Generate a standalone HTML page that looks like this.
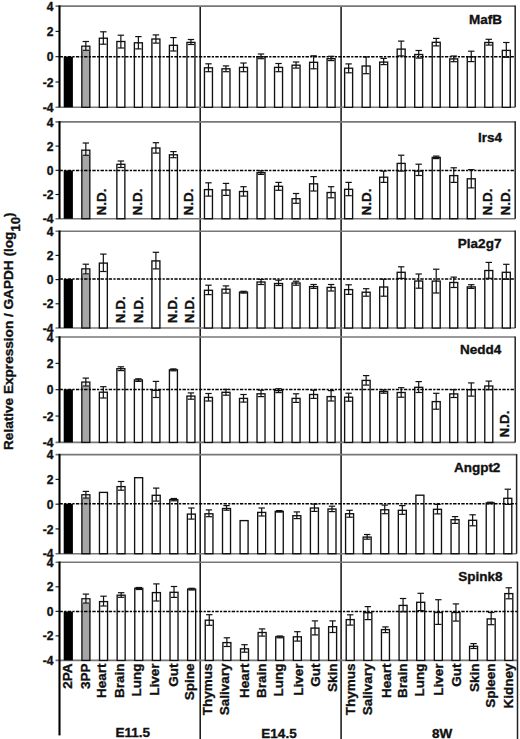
<!DOCTYPE html>
<html><head><meta charset="utf-8"><style>
html,body{margin:0;padding:0;background:#fff;}
body{width:520px;height:739px;overflow:hidden;font-family:"Liberation Sans",sans-serif;}
svg{display:block;}
</style></head><body>
<svg width="520" height="739" viewBox="0 0 520 739">
<rect x="0" y="0" width="520" height="739" fill="#fff"/>
<line x1="200.2" y1="6.1" x2="200.2" y2="739" stroke="#111" stroke-width="1.5"/>
<line x1="341.1" y1="6.1" x2="341.1" y2="739" stroke="#111" stroke-width="1.5"/>
<line x1="55.5" y1="6.1" x2="515.2" y2="6.1" stroke="#777" stroke-width="1.6"/>
<line x1="55.5" y1="107.3" x2="515.2" y2="107.3" stroke="#777" stroke-width="1.6"/>
<line x1="515.2" y1="5.5" x2="515.2" y2="107.3" stroke="#222" stroke-width="1.5"/>
<line x1="55.5" y1="31.4" x2="59.5" y2="31.4" stroke="#111" stroke-width="1.1"/>
<line x1="55.5" y1="56.7" x2="59.5" y2="56.7" stroke="#111" stroke-width="1.1"/>
<line x1="55.5" y1="82" x2="59.5" y2="82" stroke="#111" stroke-width="1.1"/>
<text x="53.6" y="10.7" font-size="12.1" text-anchor="end" font-family="Liberation Sans, sans-serif" font-weight="bold" stroke="#111" stroke-width="0.35" fill="#111">4</text>
<text x="53.6" y="36" font-size="12.1" text-anchor="end" font-family="Liberation Sans, sans-serif" font-weight="bold" stroke="#111" stroke-width="0.35" fill="#111">2</text>
<text x="53.6" y="61.3" font-size="12.1" text-anchor="end" font-family="Liberation Sans, sans-serif" font-weight="bold" stroke="#111" stroke-width="0.35" fill="#111">0</text>
<text x="53.6" y="86.6" font-size="12.1" text-anchor="end" font-family="Liberation Sans, sans-serif" font-weight="bold" stroke="#111" stroke-width="0.35" fill="#111">-2</text>
<text x="53.6" y="111.9" font-size="12.1" text-anchor="end" font-family="Liberation Sans, sans-serif" font-weight="bold" stroke="#111" stroke-width="0.35" fill="#111">-4</text>
<rect x="63.7" y="56.7" width="9.2" height="50.6" fill="#000"/>
<rect x="81.82" y="46.2" width="8" height="61.1" fill="#a6a6a6" stroke="#111" stroke-width="1.35"/>
<rect x="82.52" y="46.9" width="6.6" height="4.1" fill="#e6e6e6"/>
<rect x="99.34" y="38.2" width="8" height="69.1" fill="#fff" stroke="#111" stroke-width="1.35"/>
<rect x="116.86" y="41.5" width="8" height="65.8" fill="#fff" stroke="#111" stroke-width="1.35"/>
<rect x="134.38" y="42.8" width="8" height="64.5" fill="#fff" stroke="#111" stroke-width="1.35"/>
<rect x="151.9" y="39" width="8" height="68.3" fill="#fff" stroke="#111" stroke-width="1.35"/>
<rect x="169.42" y="45.3" width="8" height="62" fill="#fff" stroke="#111" stroke-width="1.35"/>
<rect x="186.94" y="42.4" width="8" height="64.9" fill="#fff" stroke="#111" stroke-width="1.35"/>
<rect x="204.46" y="67.8" width="8" height="39.5" fill="#fff" stroke="#111" stroke-width="1.35"/>
<rect x="221.98" y="68.8" width="8" height="38.5" fill="#fff" stroke="#111" stroke-width="1.35"/>
<rect x="239.5" y="67.4" width="8" height="39.9" fill="#fff" stroke="#111" stroke-width="1.35"/>
<rect x="257.02" y="56.8" width="8" height="50.5" fill="#fff" stroke="#111" stroke-width="1.35"/>
<rect x="274.54" y="67.4" width="8" height="39.9" fill="#fff" stroke="#111" stroke-width="1.35"/>
<rect x="292.06" y="65.2" width="8" height="42.1" fill="#fff" stroke="#111" stroke-width="1.35"/>
<rect x="309.58" y="62.3" width="8" height="45" fill="#fff" stroke="#111" stroke-width="1.35"/>
<rect x="327.1" y="58.7" width="8" height="48.6" fill="#fff" stroke="#111" stroke-width="1.35"/>
<rect x="344.62" y="68.2" width="8" height="39.1" fill="#fff" stroke="#111" stroke-width="1.35"/>
<rect x="362.14" y="66" width="8" height="41.3" fill="#fff" stroke="#111" stroke-width="1.35"/>
<rect x="379.66" y="62.1" width="8" height="45.2" fill="#fff" stroke="#111" stroke-width="1.35"/>
<rect x="397.18" y="49.1" width="8" height="58.2" fill="#fff" stroke="#111" stroke-width="1.35"/>
<rect x="414.7" y="54.5" width="8" height="52.8" fill="#fff" stroke="#111" stroke-width="1.35"/>
<rect x="432.22" y="42.3" width="8" height="65" fill="#fff" stroke="#111" stroke-width="1.35"/>
<rect x="449.74" y="58.9" width="8" height="48.4" fill="#fff" stroke="#111" stroke-width="1.35"/>
<rect x="467.26" y="56.8" width="8" height="50.5" fill="#fff" stroke="#111" stroke-width="1.35"/>
<rect x="484.78" y="42.5" width="8" height="64.8" fill="#fff" stroke="#111" stroke-width="1.35"/>
<rect x="502.3" y="50.4" width="8" height="56.9" fill="#fff" stroke="#111" stroke-width="1.35"/>
<line x1="59.5" y1="56.7" x2="515.2" y2="56.7" stroke="#000" stroke-width="1.5" stroke-dasharray="3.4,1.3,2.2,1.3"/>
<line x1="85.82" y1="41.5" x2="85.82" y2="50.3" stroke="#111" stroke-width="1.2"/>
<line x1="82.62" y1="41.5" x2="89.02" y2="41.5" stroke="#111" stroke-width="1.2"/>
<line x1="82.62" y1="50.3" x2="89.02" y2="50.3" stroke="#111" stroke-width="1.2"/>
<line x1="103.34" y1="31.8" x2="103.34" y2="44.2" stroke="#111" stroke-width="1.2"/>
<line x1="100.14" y1="31.8" x2="106.54" y2="31.8" stroke="#111" stroke-width="1.2"/>
<line x1="100.14" y1="44.2" x2="106.54" y2="44.2" stroke="#111" stroke-width="1.2"/>
<line x1="120.86" y1="35.2" x2="120.86" y2="48" stroke="#111" stroke-width="1.2"/>
<line x1="117.66" y1="35.2" x2="124.06" y2="35.2" stroke="#111" stroke-width="1.2"/>
<line x1="117.66" y1="48" x2="124.06" y2="48" stroke="#111" stroke-width="1.2"/>
<line x1="138.38" y1="36.6" x2="138.38" y2="48.9" stroke="#111" stroke-width="1.2"/>
<line x1="135.18" y1="36.6" x2="141.58" y2="36.6" stroke="#111" stroke-width="1.2"/>
<line x1="135.18" y1="48.9" x2="141.58" y2="48.9" stroke="#111" stroke-width="1.2"/>
<line x1="155.9" y1="34.9" x2="155.9" y2="43.1" stroke="#111" stroke-width="1.2"/>
<line x1="152.7" y1="34.9" x2="159.1" y2="34.9" stroke="#111" stroke-width="1.2"/>
<line x1="152.7" y1="43.1" x2="159.1" y2="43.1" stroke="#111" stroke-width="1.2"/>
<line x1="173.42" y1="37.6" x2="173.42" y2="51" stroke="#111" stroke-width="1.2"/>
<line x1="170.22" y1="37.6" x2="176.62" y2="37.6" stroke="#111" stroke-width="1.2"/>
<line x1="170.22" y1="51" x2="176.62" y2="51" stroke="#111" stroke-width="1.2"/>
<line x1="190.94" y1="39.5" x2="190.94" y2="44.5" stroke="#111" stroke-width="1.2"/>
<line x1="187.74" y1="39.5" x2="194.14" y2="39.5" stroke="#111" stroke-width="1.2"/>
<line x1="187.74" y1="44.5" x2="194.14" y2="44.5" stroke="#111" stroke-width="1.2"/>
<line x1="208.46" y1="63.8" x2="208.46" y2="71.7" stroke="#111" stroke-width="1.2"/>
<line x1="205.26" y1="63.8" x2="211.66" y2="63.8" stroke="#111" stroke-width="1.2"/>
<line x1="205.26" y1="71.7" x2="211.66" y2="71.7" stroke="#111" stroke-width="1.2"/>
<line x1="225.98" y1="65.9" x2="225.98" y2="71.7" stroke="#111" stroke-width="1.2"/>
<line x1="222.78" y1="65.9" x2="229.18" y2="65.9" stroke="#111" stroke-width="1.2"/>
<line x1="222.78" y1="71.7" x2="229.18" y2="71.7" stroke="#111" stroke-width="1.2"/>
<line x1="243.5" y1="63" x2="243.5" y2="71.7" stroke="#111" stroke-width="1.2"/>
<line x1="240.3" y1="63" x2="246.7" y2="63" stroke="#111" stroke-width="1.2"/>
<line x1="240.3" y1="71.7" x2="246.7" y2="71.7" stroke="#111" stroke-width="1.2"/>
<line x1="261.02" y1="54" x2="261.02" y2="58.7" stroke="#111" stroke-width="1.2"/>
<line x1="257.82" y1="54" x2="264.22" y2="54" stroke="#111" stroke-width="1.2"/>
<line x1="257.82" y1="58.7" x2="264.22" y2="58.7" stroke="#111" stroke-width="1.2"/>
<line x1="278.54" y1="63.5" x2="278.54" y2="71.7" stroke="#111" stroke-width="1.2"/>
<line x1="275.34" y1="63.5" x2="281.74" y2="63.5" stroke="#111" stroke-width="1.2"/>
<line x1="275.34" y1="71.7" x2="281.74" y2="71.7" stroke="#111" stroke-width="1.2"/>
<line x1="296.06" y1="62" x2="296.06" y2="68.1" stroke="#111" stroke-width="1.2"/>
<line x1="292.86" y1="62" x2="299.26" y2="62" stroke="#111" stroke-width="1.2"/>
<line x1="292.86" y1="68.1" x2="299.26" y2="68.1" stroke="#111" stroke-width="1.2"/>
<line x1="313.58" y1="55.8" x2="313.58" y2="68.8" stroke="#111" stroke-width="1.2"/>
<line x1="310.38" y1="55.8" x2="316.78" y2="55.8" stroke="#111" stroke-width="1.2"/>
<line x1="310.38" y1="68.8" x2="316.78" y2="68.8" stroke="#111" stroke-width="1.2"/>
<line x1="331.1" y1="56.3" x2="331.1" y2="60.6" stroke="#111" stroke-width="1.2"/>
<line x1="327.9" y1="56.3" x2="334.3" y2="56.3" stroke="#111" stroke-width="1.2"/>
<line x1="327.9" y1="60.6" x2="334.3" y2="60.6" stroke="#111" stroke-width="1.2"/>
<line x1="348.62" y1="63.9" x2="348.62" y2="72.8" stroke="#111" stroke-width="1.2"/>
<line x1="345.42" y1="63.9" x2="351.82" y2="63.9" stroke="#111" stroke-width="1.2"/>
<line x1="345.42" y1="72.8" x2="351.82" y2="72.8" stroke="#111" stroke-width="1.2"/>
<line x1="366.14" y1="56.9" x2="366.14" y2="73.7" stroke="#111" stroke-width="1.2"/>
<line x1="362.94" y1="56.9" x2="369.34" y2="56.9" stroke="#111" stroke-width="1.2"/>
<line x1="362.94" y1="73.7" x2="369.34" y2="73.7" stroke="#111" stroke-width="1.2"/>
<line x1="383.66" y1="58.4" x2="383.66" y2="64.6" stroke="#111" stroke-width="1.2"/>
<line x1="380.46" y1="58.4" x2="386.86" y2="58.4" stroke="#111" stroke-width="1.2"/>
<line x1="380.46" y1="64.6" x2="386.86" y2="64.6" stroke="#111" stroke-width="1.2"/>
<line x1="401.18" y1="41.1" x2="401.18" y2="55.9" stroke="#111" stroke-width="1.2"/>
<line x1="397.98" y1="41.1" x2="404.38" y2="41.1" stroke="#111" stroke-width="1.2"/>
<line x1="397.98" y1="55.9" x2="404.38" y2="55.9" stroke="#111" stroke-width="1.2"/>
<line x1="418.7" y1="50.5" x2="418.7" y2="58.1" stroke="#111" stroke-width="1.2"/>
<line x1="415.5" y1="50.5" x2="421.9" y2="50.5" stroke="#111" stroke-width="1.2"/>
<line x1="415.5" y1="58.1" x2="421.9" y2="58.1" stroke="#111" stroke-width="1.2"/>
<line x1="436.22" y1="38.4" x2="436.22" y2="45.9" stroke="#111" stroke-width="1.2"/>
<line x1="433.02" y1="38.4" x2="439.42" y2="38.4" stroke="#111" stroke-width="1.2"/>
<line x1="433.02" y1="45.9" x2="439.42" y2="45.9" stroke="#111" stroke-width="1.2"/>
<line x1="453.74" y1="56" x2="453.74" y2="61.7" stroke="#111" stroke-width="1.2"/>
<line x1="450.54" y1="56" x2="456.94" y2="56" stroke="#111" stroke-width="1.2"/>
<line x1="450.54" y1="61.7" x2="456.94" y2="61.7" stroke="#111" stroke-width="1.2"/>
<line x1="471.26" y1="51.2" x2="471.26" y2="61.6" stroke="#111" stroke-width="1.2"/>
<line x1="468.06" y1="51.2" x2="474.46" y2="51.2" stroke="#111" stroke-width="1.2"/>
<line x1="468.06" y1="61.6" x2="474.46" y2="61.6" stroke="#111" stroke-width="1.2"/>
<line x1="488.78" y1="39.3" x2="488.78" y2="45.1" stroke="#111" stroke-width="1.2"/>
<line x1="485.58" y1="39.3" x2="491.98" y2="39.3" stroke="#111" stroke-width="1.2"/>
<line x1="485.58" y1="45.1" x2="491.98" y2="45.1" stroke="#111" stroke-width="1.2"/>
<line x1="506.3" y1="42.5" x2="506.3" y2="57.3" stroke="#111" stroke-width="1.2"/>
<line x1="503.1" y1="42.5" x2="509.5" y2="42.5" stroke="#111" stroke-width="1.2"/>
<line x1="503.1" y1="57.3" x2="509.5" y2="57.3" stroke="#111" stroke-width="1.2"/>
<line x1="59.5" y1="5.4" x2="59.5" y2="107.3" stroke="#000" stroke-width="2.1"/>
<text x="502.1" y="23.8" font-size="13.5" text-anchor="end" font-family="Liberation Sans, sans-serif" font-weight="bold" stroke="#111" stroke-width="0.35" fill="#111">MafB</text>
<line x1="55.5" y1="121.9" x2="515.2" y2="121.9" stroke="#777" stroke-width="1.6"/>
<line x1="55.5" y1="218.7" x2="515.2" y2="218.7" stroke="#777" stroke-width="1.6"/>
<line x1="515.2" y1="121.3" x2="515.2" y2="218.7" stroke="#222" stroke-width="1.5"/>
<line x1="55.5" y1="146.1" x2="59.5" y2="146.1" stroke="#111" stroke-width="1.1"/>
<line x1="55.5" y1="170.3" x2="59.5" y2="170.3" stroke="#111" stroke-width="1.1"/>
<line x1="55.5" y1="194.5" x2="59.5" y2="194.5" stroke="#111" stroke-width="1.1"/>
<text x="53.6" y="126.5" font-size="12.1" text-anchor="end" font-family="Liberation Sans, sans-serif" font-weight="bold" stroke="#111" stroke-width="0.35" fill="#111">4</text>
<text x="53.6" y="150.7" font-size="12.1" text-anchor="end" font-family="Liberation Sans, sans-serif" font-weight="bold" stroke="#111" stroke-width="0.35" fill="#111">2</text>
<text x="53.6" y="174.9" font-size="12.1" text-anchor="end" font-family="Liberation Sans, sans-serif" font-weight="bold" stroke="#111" stroke-width="0.35" fill="#111">0</text>
<text x="53.6" y="199.1" font-size="12.1" text-anchor="end" font-family="Liberation Sans, sans-serif" font-weight="bold" stroke="#111" stroke-width="0.35" fill="#111">-2</text>
<text x="53.6" y="223.3" font-size="12.1" text-anchor="end" font-family="Liberation Sans, sans-serif" font-weight="bold" stroke="#111" stroke-width="0.35" fill="#111">-4</text>
<rect x="63.7" y="170.5" width="9.2" height="48.2" fill="#000"/>
<rect x="81.82" y="150.2" width="8" height="68.5" fill="#a6a6a6" stroke="#111" stroke-width="1.35"/>
<rect x="82.52" y="150.9" width="6.6" height="5.1" fill="#e6e6e6"/>
<text transform="translate(106.33,215.6) rotate(-90) scale(1,0.95)" font-size="13.5" font-family="Liberation Sans, sans-serif" font-weight="bold" stroke="#111" stroke-width="0.35" fill="#111">N.D.</text>
<rect x="116.86" y="164.3" width="8" height="54.4" fill="#fff" stroke="#111" stroke-width="1.35"/>
<text transform="translate(141.83,215.6) rotate(-90) scale(1,0.95)" font-size="13.5" font-family="Liberation Sans, sans-serif" font-weight="bold" stroke="#111" stroke-width="0.35" fill="#111">N.D.</text>
<rect x="151.9" y="148" width="8" height="70.7" fill="#fff" stroke="#111" stroke-width="1.35"/>
<rect x="169.42" y="154.8" width="8" height="63.9" fill="#fff" stroke="#111" stroke-width="1.35"/>
<text transform="translate(193.03,215.6) rotate(-90) scale(1,0.95)" font-size="13.5" font-family="Liberation Sans, sans-serif" font-weight="bold" stroke="#111" stroke-width="0.35" fill="#111">N.D.</text>
<rect x="204.46" y="189.6" width="8" height="29.1" fill="#fff" stroke="#111" stroke-width="1.35"/>
<rect x="221.98" y="190" width="8" height="28.7" fill="#fff" stroke="#111" stroke-width="1.35"/>
<rect x="239.5" y="191.5" width="8" height="27.2" fill="#fff" stroke="#111" stroke-width="1.35"/>
<rect x="257.02" y="172.7" width="8" height="46" fill="#fff" stroke="#111" stroke-width="1.35"/>
<rect x="274.54" y="186.3" width="8" height="32.4" fill="#fff" stroke="#111" stroke-width="1.35"/>
<rect x="292.06" y="198.7" width="8" height="20" fill="#fff" stroke="#111" stroke-width="1.35"/>
<rect x="309.58" y="183.8" width="8" height="34.9" fill="#fff" stroke="#111" stroke-width="1.35"/>
<rect x="327.1" y="192.5" width="8" height="26.2" fill="#fff" stroke="#111" stroke-width="1.35"/>
<rect x="344.62" y="189.3" width="8" height="29.4" fill="#fff" stroke="#111" stroke-width="1.35"/>
<text transform="translate(370.53,215.6) rotate(-90) scale(1,0.95)" font-size="13.5" font-family="Liberation Sans, sans-serif" font-weight="bold" stroke="#111" stroke-width="0.35" fill="#111">N.D.</text>
<rect x="379.66" y="177.2" width="8" height="41.5" fill="#fff" stroke="#111" stroke-width="1.35"/>
<rect x="397.18" y="163.4" width="8" height="55.3" fill="#fff" stroke="#111" stroke-width="1.35"/>
<rect x="414.7" y="171.1" width="8" height="47.6" fill="#fff" stroke="#111" stroke-width="1.35"/>
<rect x="432.22" y="157.4" width="8" height="61.3" fill="#fff" stroke="#111" stroke-width="1.35"/>
<rect x="449.74" y="175.6" width="8" height="43.1" fill="#fff" stroke="#111" stroke-width="1.35"/>
<rect x="467.26" y="178.8" width="8" height="39.9" fill="#fff" stroke="#111" stroke-width="1.35"/>
<text transform="translate(492.23,215.6) rotate(-90) scale(1,0.95)" font-size="13.5" font-family="Liberation Sans, sans-serif" font-weight="bold" stroke="#111" stroke-width="0.35" fill="#111">N.D.</text>
<text transform="translate(509.63,215.6) rotate(-90) scale(1,0.95)" font-size="13.5" font-family="Liberation Sans, sans-serif" font-weight="bold" stroke="#111" stroke-width="0.35" fill="#111">N.D.</text>
<line x1="59.5" y1="170.5" x2="515.2" y2="170.5" stroke="#000" stroke-width="1.5" stroke-dasharray="3.4,1.3,2.2,1.3"/>
<line x1="85.82" y1="143" x2="85.82" y2="155.3" stroke="#111" stroke-width="1.2"/>
<line x1="82.62" y1="143" x2="89.02" y2="143" stroke="#111" stroke-width="1.2"/>
<line x1="82.62" y1="155.3" x2="89.02" y2="155.3" stroke="#111" stroke-width="1.2"/>
<line x1="120.86" y1="161" x2="120.86" y2="167.5" stroke="#111" stroke-width="1.2"/>
<line x1="117.66" y1="161" x2="124.06" y2="161" stroke="#111" stroke-width="1.2"/>
<line x1="117.66" y1="167.5" x2="124.06" y2="167.5" stroke="#111" stroke-width="1.2"/>
<line x1="155.9" y1="142.7" x2="155.9" y2="153.1" stroke="#111" stroke-width="1.2"/>
<line x1="152.7" y1="142.7" x2="159.1" y2="142.7" stroke="#111" stroke-width="1.2"/>
<line x1="152.7" y1="153.1" x2="159.1" y2="153.1" stroke="#111" stroke-width="1.2"/>
<line x1="173.42" y1="151.6" x2="173.42" y2="157.7" stroke="#111" stroke-width="1.2"/>
<line x1="170.22" y1="151.6" x2="176.62" y2="151.6" stroke="#111" stroke-width="1.2"/>
<line x1="170.22" y1="157.7" x2="176.62" y2="157.7" stroke="#111" stroke-width="1.2"/>
<line x1="208.46" y1="182.8" x2="208.46" y2="196.1" stroke="#111" stroke-width="1.2"/>
<line x1="205.26" y1="182.8" x2="211.66" y2="182.8" stroke="#111" stroke-width="1.2"/>
<line x1="205.26" y1="196.1" x2="211.66" y2="196.1" stroke="#111" stroke-width="1.2"/>
<line x1="225.98" y1="183.4" x2="225.98" y2="195.4" stroke="#111" stroke-width="1.2"/>
<line x1="222.78" y1="183.4" x2="229.18" y2="183.4" stroke="#111" stroke-width="1.2"/>
<line x1="222.78" y1="195.4" x2="229.18" y2="195.4" stroke="#111" stroke-width="1.2"/>
<line x1="243.5" y1="186.7" x2="243.5" y2="196.1" stroke="#111" stroke-width="1.2"/>
<line x1="240.3" y1="186.7" x2="246.7" y2="186.7" stroke="#111" stroke-width="1.2"/>
<line x1="240.3" y1="196.1" x2="246.7" y2="196.1" stroke="#111" stroke-width="1.2"/>
<line x1="261.02" y1="170.8" x2="261.02" y2="174.4" stroke="#111" stroke-width="1.2"/>
<line x1="257.82" y1="170.8" x2="264.22" y2="170.8" stroke="#111" stroke-width="1.2"/>
<line x1="257.82" y1="174.4" x2="264.22" y2="174.4" stroke="#111" stroke-width="1.2"/>
<line x1="278.54" y1="182.4" x2="278.54" y2="190.3" stroke="#111" stroke-width="1.2"/>
<line x1="275.34" y1="182.4" x2="281.74" y2="182.4" stroke="#111" stroke-width="1.2"/>
<line x1="275.34" y1="190.3" x2="281.74" y2="190.3" stroke="#111" stroke-width="1.2"/>
<line x1="296.06" y1="193.5" x2="296.06" y2="203.3" stroke="#111" stroke-width="1.2"/>
<line x1="292.86" y1="193.5" x2="299.26" y2="193.5" stroke="#111" stroke-width="1.2"/>
<line x1="292.86" y1="203.3" x2="299.26" y2="203.3" stroke="#111" stroke-width="1.2"/>
<line x1="313.58" y1="176.6" x2="313.58" y2="191" stroke="#111" stroke-width="1.2"/>
<line x1="310.38" y1="176.6" x2="316.78" y2="176.6" stroke="#111" stroke-width="1.2"/>
<line x1="310.38" y1="191" x2="316.78" y2="191" stroke="#111" stroke-width="1.2"/>
<line x1="331.1" y1="186.7" x2="331.1" y2="197.8" stroke="#111" stroke-width="1.2"/>
<line x1="327.9" y1="186.7" x2="334.3" y2="186.7" stroke="#111" stroke-width="1.2"/>
<line x1="327.9" y1="197.8" x2="334.3" y2="197.8" stroke="#111" stroke-width="1.2"/>
<line x1="348.62" y1="182.4" x2="348.62" y2="195.7" stroke="#111" stroke-width="1.2"/>
<line x1="345.42" y1="182.4" x2="351.82" y2="182.4" stroke="#111" stroke-width="1.2"/>
<line x1="345.42" y1="195.7" x2="351.82" y2="195.7" stroke="#111" stroke-width="1.2"/>
<line x1="383.66" y1="171.1" x2="383.66" y2="182.4" stroke="#111" stroke-width="1.2"/>
<line x1="380.46" y1="171.1" x2="386.86" y2="171.1" stroke="#111" stroke-width="1.2"/>
<line x1="380.46" y1="182.4" x2="386.86" y2="182.4" stroke="#111" stroke-width="1.2"/>
<line x1="401.18" y1="155.2" x2="401.18" y2="171.1" stroke="#111" stroke-width="1.2"/>
<line x1="397.98" y1="155.2" x2="404.38" y2="155.2" stroke="#111" stroke-width="1.2"/>
<line x1="397.98" y1="171.1" x2="404.38" y2="171.1" stroke="#111" stroke-width="1.2"/>
<line x1="418.7" y1="164.2" x2="418.7" y2="175.5" stroke="#111" stroke-width="1.2"/>
<line x1="415.5" y1="164.2" x2="421.9" y2="164.2" stroke="#111" stroke-width="1.2"/>
<line x1="415.5" y1="175.5" x2="421.9" y2="175.5" stroke="#111" stroke-width="1.2"/>
<line x1="436.22" y1="156.1" x2="436.22" y2="158.6" stroke="#111" stroke-width="1.2"/>
<line x1="433.02" y1="156.1" x2="439.42" y2="156.1" stroke="#111" stroke-width="1.2"/>
<line x1="433.02" y1="158.6" x2="439.42" y2="158.6" stroke="#111" stroke-width="1.2"/>
<line x1="453.74" y1="167.8" x2="453.74" y2="182.4" stroke="#111" stroke-width="1.2"/>
<line x1="450.54" y1="167.8" x2="456.94" y2="167.8" stroke="#111" stroke-width="1.2"/>
<line x1="450.54" y1="182.4" x2="456.94" y2="182.4" stroke="#111" stroke-width="1.2"/>
<line x1="471.26" y1="169.6" x2="471.26" y2="187.9" stroke="#111" stroke-width="1.2"/>
<line x1="468.06" y1="169.6" x2="474.46" y2="169.6" stroke="#111" stroke-width="1.2"/>
<line x1="468.06" y1="187.9" x2="474.46" y2="187.9" stroke="#111" stroke-width="1.2"/>
<line x1="59.5" y1="121.2" x2="59.5" y2="218.7" stroke="#000" stroke-width="2.1"/>
<text x="502.1" y="141.5" font-size="13.5" text-anchor="end" font-family="Liberation Sans, sans-serif" font-weight="bold" stroke="#111" stroke-width="0.35" fill="#111">Irs4</text>
<line x1="55.5" y1="231.2" x2="515.2" y2="231.2" stroke="#777" stroke-width="1.6"/>
<line x1="55.5" y1="328" x2="515.2" y2="328" stroke="#777" stroke-width="1.6"/>
<line x1="515.2" y1="230.6" x2="515.2" y2="328" stroke="#222" stroke-width="1.5"/>
<line x1="55.5" y1="255.4" x2="59.5" y2="255.4" stroke="#111" stroke-width="1.1"/>
<line x1="55.5" y1="279.6" x2="59.5" y2="279.6" stroke="#111" stroke-width="1.1"/>
<line x1="55.5" y1="303.8" x2="59.5" y2="303.8" stroke="#111" stroke-width="1.1"/>
<text x="53.6" y="235.8" font-size="12.1" text-anchor="end" font-family="Liberation Sans, sans-serif" font-weight="bold" stroke="#111" stroke-width="0.35" fill="#111">4</text>
<text x="53.6" y="260" font-size="12.1" text-anchor="end" font-family="Liberation Sans, sans-serif" font-weight="bold" stroke="#111" stroke-width="0.35" fill="#111">2</text>
<text x="53.6" y="284.2" font-size="12.1" text-anchor="end" font-family="Liberation Sans, sans-serif" font-weight="bold" stroke="#111" stroke-width="0.35" fill="#111">0</text>
<text x="53.6" y="308.4" font-size="12.1" text-anchor="end" font-family="Liberation Sans, sans-serif" font-weight="bold" stroke="#111" stroke-width="0.35" fill="#111">-2</text>
<text x="53.6" y="332.6" font-size="12.1" text-anchor="end" font-family="Liberation Sans, sans-serif" font-weight="bold" stroke="#111" stroke-width="0.35" fill="#111">-4</text>
<rect x="63.7" y="279" width="9.2" height="49" fill="#000"/>
<rect x="81.82" y="268.9" width="8" height="59.1" fill="#a6a6a6" stroke="#111" stroke-width="1.35"/>
<rect x="82.52" y="269.6" width="6.6" height="5" fill="#e6e6e6"/>
<rect x="99.34" y="263.1" width="8" height="64.9" fill="#fff" stroke="#111" stroke-width="1.35"/>
<text transform="translate(124.83,323.2) rotate(-90) scale(1,0.95)" font-size="13.5" font-family="Liberation Sans, sans-serif" font-weight="bold" stroke="#111" stroke-width="0.35" fill="#111">N.D.</text>
<text transform="translate(142.53,323.2) rotate(-90) scale(1,0.95)" font-size="13.5" font-family="Liberation Sans, sans-serif" font-weight="bold" stroke="#111" stroke-width="0.35" fill="#111">N.D.</text>
<rect x="151.9" y="260.9" width="8" height="67.1" fill="#fff" stroke="#111" stroke-width="1.35"/>
<text transform="translate(176.73,323.2) rotate(-90) scale(1,0.95)" font-size="13.5" font-family="Liberation Sans, sans-serif" font-weight="bold" stroke="#111" stroke-width="0.35" fill="#111">N.D.</text>
<text transform="translate(194.43,323.2) rotate(-90) scale(1,0.95)" font-size="13.5" font-family="Liberation Sans, sans-serif" font-weight="bold" stroke="#111" stroke-width="0.35" fill="#111">N.D.</text>
<rect x="204.46" y="290.3" width="8" height="37.7" fill="#fff" stroke="#111" stroke-width="1.35"/>
<rect x="221.98" y="289.2" width="8" height="38.8" fill="#fff" stroke="#111" stroke-width="1.35"/>
<rect x="239.5" y="292.1" width="8" height="35.9" fill="#fff" stroke="#111" stroke-width="1.35"/>
<rect x="257.02" y="282" width="8" height="46" fill="#fff" stroke="#111" stroke-width="1.35"/>
<rect x="274.54" y="283.5" width="8" height="44.5" fill="#fff" stroke="#111" stroke-width="1.35"/>
<rect x="292.06" y="283" width="8" height="45" fill="#fff" stroke="#111" stroke-width="1.35"/>
<rect x="309.58" y="286.6" width="8" height="41.4" fill="#fff" stroke="#111" stroke-width="1.35"/>
<rect x="327.1" y="287.4" width="8" height="40.6" fill="#fff" stroke="#111" stroke-width="1.35"/>
<rect x="344.62" y="289.6" width="8" height="38.4" fill="#fff" stroke="#111" stroke-width="1.35"/>
<rect x="362.14" y="292.2" width="8" height="35.8" fill="#fff" stroke="#111" stroke-width="1.35"/>
<rect x="379.66" y="287" width="8" height="41" fill="#fff" stroke="#111" stroke-width="1.35"/>
<rect x="397.18" y="272.3" width="8" height="55.7" fill="#fff" stroke="#111" stroke-width="1.35"/>
<rect x="414.7" y="281" width="8" height="47" fill="#fff" stroke="#111" stroke-width="1.35"/>
<rect x="432.22" y="281.1" width="8" height="46.9" fill="#fff" stroke="#111" stroke-width="1.35"/>
<rect x="449.74" y="282.5" width="8" height="45.5" fill="#fff" stroke="#111" stroke-width="1.35"/>
<rect x="467.26" y="286.9" width="8" height="41.1" fill="#fff" stroke="#111" stroke-width="1.35"/>
<rect x="484.78" y="270.5" width="8" height="57.5" fill="#fff" stroke="#111" stroke-width="1.35"/>
<rect x="502.3" y="272.3" width="8" height="55.7" fill="#fff" stroke="#111" stroke-width="1.35"/>
<line x1="59.5" y1="279" x2="515.2" y2="279" stroke="#000" stroke-width="1.5" stroke-dasharray="3.4,1.3,2.2,1.3"/>
<line x1="85.82" y1="264.2" x2="85.82" y2="273.9" stroke="#111" stroke-width="1.2"/>
<line x1="82.62" y1="264.2" x2="89.02" y2="264.2" stroke="#111" stroke-width="1.2"/>
<line x1="82.62" y1="273.9" x2="89.02" y2="273.9" stroke="#111" stroke-width="1.2"/>
<line x1="103.34" y1="254.1" x2="103.34" y2="271.5" stroke="#111" stroke-width="1.2"/>
<line x1="100.14" y1="254.1" x2="106.54" y2="254.1" stroke="#111" stroke-width="1.2"/>
<line x1="100.14" y1="271.5" x2="106.54" y2="271.5" stroke="#111" stroke-width="1.2"/>
<line x1="155.9" y1="252.3" x2="155.9" y2="268.9" stroke="#111" stroke-width="1.2"/>
<line x1="152.7" y1="252.3" x2="159.1" y2="252.3" stroke="#111" stroke-width="1.2"/>
<line x1="152.7" y1="268.9" x2="159.1" y2="268.9" stroke="#111" stroke-width="1.2"/>
<line x1="208.46" y1="285.2" x2="208.46" y2="294.6" stroke="#111" stroke-width="1.2"/>
<line x1="205.26" y1="285.2" x2="211.66" y2="285.2" stroke="#111" stroke-width="1.2"/>
<line x1="205.26" y1="294.6" x2="211.66" y2="294.6" stroke="#111" stroke-width="1.2"/>
<line x1="225.98" y1="285.9" x2="225.98" y2="293.1" stroke="#111" stroke-width="1.2"/>
<line x1="222.78" y1="285.9" x2="229.18" y2="285.9" stroke="#111" stroke-width="1.2"/>
<line x1="222.78" y1="293.1" x2="229.18" y2="293.1" stroke="#111" stroke-width="1.2"/>
<line x1="243.5" y1="291.3" x2="243.5" y2="293.1" stroke="#111" stroke-width="1.2"/>
<line x1="240.3" y1="291.3" x2="246.7" y2="291.3" stroke="#111" stroke-width="1.2"/>
<line x1="240.3" y1="293.1" x2="246.7" y2="293.1" stroke="#111" stroke-width="1.2"/>
<line x1="261.02" y1="279.4" x2="261.02" y2="284.5" stroke="#111" stroke-width="1.2"/>
<line x1="257.82" y1="279.4" x2="264.22" y2="279.4" stroke="#111" stroke-width="1.2"/>
<line x1="257.82" y1="284.5" x2="264.22" y2="284.5" stroke="#111" stroke-width="1.2"/>
<line x1="278.54" y1="280.2" x2="278.54" y2="285.5" stroke="#111" stroke-width="1.2"/>
<line x1="275.34" y1="280.2" x2="281.74" y2="280.2" stroke="#111" stroke-width="1.2"/>
<line x1="275.34" y1="285.5" x2="281.74" y2="285.5" stroke="#111" stroke-width="1.2"/>
<line x1="296.06" y1="281.2" x2="296.06" y2="285.2" stroke="#111" stroke-width="1.2"/>
<line x1="292.86" y1="281.2" x2="299.26" y2="281.2" stroke="#111" stroke-width="1.2"/>
<line x1="292.86" y1="285.2" x2="299.26" y2="285.2" stroke="#111" stroke-width="1.2"/>
<line x1="313.58" y1="284.5" x2="313.58" y2="288.4" stroke="#111" stroke-width="1.2"/>
<line x1="310.38" y1="284.5" x2="316.78" y2="284.5" stroke="#111" stroke-width="1.2"/>
<line x1="310.38" y1="288.4" x2="316.78" y2="288.4" stroke="#111" stroke-width="1.2"/>
<line x1="331.1" y1="284.5" x2="331.1" y2="291" stroke="#111" stroke-width="1.2"/>
<line x1="327.9" y1="284.5" x2="334.3" y2="284.5" stroke="#111" stroke-width="1.2"/>
<line x1="327.9" y1="291" x2="334.3" y2="291" stroke="#111" stroke-width="1.2"/>
<line x1="348.62" y1="284.8" x2="348.62" y2="294.4" stroke="#111" stroke-width="1.2"/>
<line x1="345.42" y1="284.8" x2="351.82" y2="284.8" stroke="#111" stroke-width="1.2"/>
<line x1="345.42" y1="294.4" x2="351.82" y2="294.4" stroke="#111" stroke-width="1.2"/>
<line x1="366.14" y1="288.7" x2="366.14" y2="296.2" stroke="#111" stroke-width="1.2"/>
<line x1="362.94" y1="288.7" x2="369.34" y2="288.7" stroke="#111" stroke-width="1.2"/>
<line x1="362.94" y1="296.2" x2="369.34" y2="296.2" stroke="#111" stroke-width="1.2"/>
<line x1="383.66" y1="279.2" x2="383.66" y2="296.2" stroke="#111" stroke-width="1.2"/>
<line x1="380.46" y1="279.2" x2="386.86" y2="279.2" stroke="#111" stroke-width="1.2"/>
<line x1="380.46" y1="296.2" x2="386.86" y2="296.2" stroke="#111" stroke-width="1.2"/>
<line x1="401.18" y1="266.8" x2="401.18" y2="278.4" stroke="#111" stroke-width="1.2"/>
<line x1="397.98" y1="266.8" x2="404.38" y2="266.8" stroke="#111" stroke-width="1.2"/>
<line x1="397.98" y1="278.4" x2="404.38" y2="278.4" stroke="#111" stroke-width="1.2"/>
<line x1="418.7" y1="274" x2="418.7" y2="288.2" stroke="#111" stroke-width="1.2"/>
<line x1="415.5" y1="274" x2="421.9" y2="274" stroke="#111" stroke-width="1.2"/>
<line x1="415.5" y1="288.2" x2="421.9" y2="288.2" stroke="#111" stroke-width="1.2"/>
<line x1="436.22" y1="269.2" x2="436.22" y2="293" stroke="#111" stroke-width="1.2"/>
<line x1="433.02" y1="269.2" x2="439.42" y2="269.2" stroke="#111" stroke-width="1.2"/>
<line x1="433.02" y1="293" x2="439.42" y2="293" stroke="#111" stroke-width="1.2"/>
<line x1="453.74" y1="277.1" x2="453.74" y2="287.5" stroke="#111" stroke-width="1.2"/>
<line x1="450.54" y1="277.1" x2="456.94" y2="277.1" stroke="#111" stroke-width="1.2"/>
<line x1="450.54" y1="287.5" x2="456.94" y2="287.5" stroke="#111" stroke-width="1.2"/>
<line x1="471.26" y1="284.7" x2="471.26" y2="288.4" stroke="#111" stroke-width="1.2"/>
<line x1="468.06" y1="284.7" x2="474.46" y2="284.7" stroke="#111" stroke-width="1.2"/>
<line x1="468.06" y1="288.4" x2="474.46" y2="288.4" stroke="#111" stroke-width="1.2"/>
<line x1="488.78" y1="262.4" x2="488.78" y2="278.3" stroke="#111" stroke-width="1.2"/>
<line x1="485.58" y1="262.4" x2="491.98" y2="262.4" stroke="#111" stroke-width="1.2"/>
<line x1="485.58" y1="278.3" x2="491.98" y2="278.3" stroke="#111" stroke-width="1.2"/>
<line x1="506.3" y1="264.3" x2="506.3" y2="279.3" stroke="#111" stroke-width="1.2"/>
<line x1="503.1" y1="264.3" x2="509.5" y2="264.3" stroke="#111" stroke-width="1.2"/>
<line x1="503.1" y1="279.3" x2="509.5" y2="279.3" stroke="#111" stroke-width="1.2"/>
<line x1="59.5" y1="230.5" x2="59.5" y2="328" stroke="#000" stroke-width="2.1"/>
<text x="501.4" y="247.9" font-size="13.5" text-anchor="end" font-family="Liberation Sans, sans-serif" font-weight="bold" stroke="#111" stroke-width="0.35" fill="#111">Pla2g7</text>
<line x1="55.5" y1="337" x2="515.2" y2="337" stroke="#777" stroke-width="1.6"/>
<line x1="55.5" y1="442.4" x2="515.2" y2="442.4" stroke="#777" stroke-width="1.6"/>
<line x1="515.2" y1="336.4" x2="515.2" y2="442.4" stroke="#222" stroke-width="1.5"/>
<line x1="55.5" y1="363.35" x2="59.5" y2="363.35" stroke="#111" stroke-width="1.1"/>
<line x1="55.5" y1="389.7" x2="59.5" y2="389.7" stroke="#111" stroke-width="1.1"/>
<line x1="55.5" y1="416.05" x2="59.5" y2="416.05" stroke="#111" stroke-width="1.1"/>
<text x="53.6" y="341.6" font-size="12.1" text-anchor="end" font-family="Liberation Sans, sans-serif" font-weight="bold" stroke="#111" stroke-width="0.35" fill="#111">4</text>
<text x="53.6" y="367.95" font-size="12.1" text-anchor="end" font-family="Liberation Sans, sans-serif" font-weight="bold" stroke="#111" stroke-width="0.35" fill="#111">2</text>
<text x="53.6" y="394.3" font-size="12.1" text-anchor="end" font-family="Liberation Sans, sans-serif" font-weight="bold" stroke="#111" stroke-width="0.35" fill="#111">0</text>
<text x="53.6" y="420.65" font-size="12.1" text-anchor="end" font-family="Liberation Sans, sans-serif" font-weight="bold" stroke="#111" stroke-width="0.35" fill="#111">-2</text>
<text x="53.6" y="447" font-size="12.1" text-anchor="end" font-family="Liberation Sans, sans-serif" font-weight="bold" stroke="#111" stroke-width="0.35" fill="#111">-4</text>
<rect x="63.7" y="389.4" width="9.2" height="53" fill="#000"/>
<rect x="81.82" y="382.1" width="8" height="60.3" fill="#a6a6a6" stroke="#111" stroke-width="1.35"/>
<rect x="82.52" y="382.8" width="6.6" height="3.9" fill="#e6e6e6"/>
<rect x="99.34" y="392.2" width="8" height="50.2" fill="#fff" stroke="#111" stroke-width="1.35"/>
<rect x="116.86" y="368.7" width="8" height="73.7" fill="#fff" stroke="#111" stroke-width="1.35"/>
<rect x="134.38" y="379.9" width="8" height="62.5" fill="#fff" stroke="#111" stroke-width="1.35"/>
<rect x="151.9" y="390.3" width="8" height="52.1" fill="#fff" stroke="#111" stroke-width="1.35"/>
<rect x="169.42" y="369.8" width="8" height="72.6" fill="#fff" stroke="#111" stroke-width="1.35"/>
<rect x="186.94" y="396.1" width="8" height="46.3" fill="#fff" stroke="#111" stroke-width="1.35"/>
<rect x="204.46" y="397.4" width="8" height="45" fill="#fff" stroke="#111" stroke-width="1.35"/>
<rect x="221.98" y="392.3" width="8" height="50.1" fill="#fff" stroke="#111" stroke-width="1.35"/>
<rect x="239.5" y="398.4" width="8" height="44" fill="#fff" stroke="#111" stroke-width="1.35"/>
<rect x="257.02" y="393.8" width="8" height="48.6" fill="#fff" stroke="#111" stroke-width="1.35"/>
<rect x="274.54" y="390.6" width="8" height="51.8" fill="#fff" stroke="#111" stroke-width="1.35"/>
<rect x="292.06" y="398.4" width="8" height="44" fill="#fff" stroke="#111" stroke-width="1.35"/>
<rect x="309.58" y="394.5" width="8" height="47.9" fill="#fff" stroke="#111" stroke-width="1.35"/>
<rect x="327.1" y="396.6" width="8" height="45.8" fill="#fff" stroke="#111" stroke-width="1.35"/>
<rect x="344.62" y="397.2" width="8" height="45.2" fill="#fff" stroke="#111" stroke-width="1.35"/>
<rect x="362.14" y="380.4" width="8" height="62" fill="#fff" stroke="#111" stroke-width="1.35"/>
<rect x="379.66" y="391.5" width="8" height="50.9" fill="#fff" stroke="#111" stroke-width="1.35"/>
<rect x="397.18" y="392.5" width="8" height="49.9" fill="#fff" stroke="#111" stroke-width="1.35"/>
<rect x="414.7" y="387.3" width="8" height="55.1" fill="#fff" stroke="#111" stroke-width="1.35"/>
<rect x="432.22" y="401.6" width="8" height="40.8" fill="#fff" stroke="#111" stroke-width="1.35"/>
<rect x="449.74" y="393.9" width="8" height="48.5" fill="#fff" stroke="#111" stroke-width="1.35"/>
<rect x="467.26" y="389.7" width="8" height="52.7" fill="#fff" stroke="#111" stroke-width="1.35"/>
<rect x="484.78" y="386" width="8" height="56.4" fill="#fff" stroke="#111" stroke-width="1.35"/>
<text transform="translate(508.83,437.5) rotate(-90) scale(1,0.95)" font-size="13.5" font-family="Liberation Sans, sans-serif" font-weight="bold" stroke="#111" stroke-width="0.35" fill="#111">N.D.</text>
<line x1="59.5" y1="389.4" x2="515.2" y2="389.4" stroke="#000" stroke-width="1.5" stroke-dasharray="3.4,1.3,2.2,1.3"/>
<line x1="85.82" y1="378.1" x2="85.82" y2="386" stroke="#111" stroke-width="1.2"/>
<line x1="82.62" y1="378.1" x2="89.02" y2="378.1" stroke="#111" stroke-width="1.2"/>
<line x1="82.62" y1="386" x2="89.02" y2="386" stroke="#111" stroke-width="1.2"/>
<line x1="103.34" y1="386.7" x2="103.34" y2="398" stroke="#111" stroke-width="1.2"/>
<line x1="100.14" y1="386.7" x2="106.54" y2="386.7" stroke="#111" stroke-width="1.2"/>
<line x1="100.14" y1="398" x2="106.54" y2="398" stroke="#111" stroke-width="1.2"/>
<line x1="120.86" y1="366.8" x2="120.86" y2="370.6" stroke="#111" stroke-width="1.2"/>
<line x1="117.66" y1="366.8" x2="124.06" y2="366.8" stroke="#111" stroke-width="1.2"/>
<line x1="117.66" y1="370.6" x2="124.06" y2="370.6" stroke="#111" stroke-width="1.2"/>
<line x1="138.38" y1="378.8" x2="138.38" y2="381.4" stroke="#111" stroke-width="1.2"/>
<line x1="135.18" y1="378.8" x2="141.58" y2="378.8" stroke="#111" stroke-width="1.2"/>
<line x1="135.18" y1="381.4" x2="141.58" y2="381.4" stroke="#111" stroke-width="1.2"/>
<line x1="155.9" y1="381.4" x2="155.9" y2="397.5" stroke="#111" stroke-width="1.2"/>
<line x1="152.7" y1="381.4" x2="159.1" y2="381.4" stroke="#111" stroke-width="1.2"/>
<line x1="152.7" y1="397.5" x2="159.1" y2="397.5" stroke="#111" stroke-width="1.2"/>
<line x1="173.42" y1="368.9" x2="173.42" y2="370.8" stroke="#111" stroke-width="1.2"/>
<line x1="170.22" y1="368.9" x2="176.62" y2="368.9" stroke="#111" stroke-width="1.2"/>
<line x1="170.22" y1="370.8" x2="176.62" y2="370.8" stroke="#111" stroke-width="1.2"/>
<line x1="190.94" y1="392.9" x2="190.94" y2="399.2" stroke="#111" stroke-width="1.2"/>
<line x1="187.74" y1="392.9" x2="194.14" y2="392.9" stroke="#111" stroke-width="1.2"/>
<line x1="187.74" y1="399.2" x2="194.14" y2="399.2" stroke="#111" stroke-width="1.2"/>
<line x1="208.46" y1="393.5" x2="208.46" y2="401" stroke="#111" stroke-width="1.2"/>
<line x1="205.26" y1="393.5" x2="211.66" y2="393.5" stroke="#111" stroke-width="1.2"/>
<line x1="205.26" y1="401" x2="211.66" y2="401" stroke="#111" stroke-width="1.2"/>
<line x1="225.98" y1="389.4" x2="225.98" y2="395.2" stroke="#111" stroke-width="1.2"/>
<line x1="222.78" y1="389.4" x2="229.18" y2="389.4" stroke="#111" stroke-width="1.2"/>
<line x1="222.78" y1="395.2" x2="229.18" y2="395.2" stroke="#111" stroke-width="1.2"/>
<line x1="243.5" y1="394.5" x2="243.5" y2="402.1" stroke="#111" stroke-width="1.2"/>
<line x1="240.3" y1="394.5" x2="246.7" y2="394.5" stroke="#111" stroke-width="1.2"/>
<line x1="240.3" y1="402.1" x2="246.7" y2="402.1" stroke="#111" stroke-width="1.2"/>
<line x1="261.02" y1="390.2" x2="261.02" y2="396.6" stroke="#111" stroke-width="1.2"/>
<line x1="257.82" y1="390.2" x2="264.22" y2="390.2" stroke="#111" stroke-width="1.2"/>
<line x1="257.82" y1="396.6" x2="264.22" y2="396.6" stroke="#111" stroke-width="1.2"/>
<line x1="278.54" y1="388.7" x2="278.54" y2="392.6" stroke="#111" stroke-width="1.2"/>
<line x1="275.34" y1="388.7" x2="281.74" y2="388.7" stroke="#111" stroke-width="1.2"/>
<line x1="275.34" y1="392.6" x2="281.74" y2="392.6" stroke="#111" stroke-width="1.2"/>
<line x1="296.06" y1="393.8" x2="296.06" y2="402.4" stroke="#111" stroke-width="1.2"/>
<line x1="292.86" y1="393.8" x2="299.26" y2="393.8" stroke="#111" stroke-width="1.2"/>
<line x1="292.86" y1="402.4" x2="299.26" y2="402.4" stroke="#111" stroke-width="1.2"/>
<line x1="313.58" y1="390.2" x2="313.58" y2="398.4" stroke="#111" stroke-width="1.2"/>
<line x1="310.38" y1="390.2" x2="316.78" y2="390.2" stroke="#111" stroke-width="1.2"/>
<line x1="310.38" y1="398.4" x2="316.78" y2="398.4" stroke="#111" stroke-width="1.2"/>
<line x1="331.1" y1="390.6" x2="331.1" y2="401" stroke="#111" stroke-width="1.2"/>
<line x1="327.9" y1="390.6" x2="334.3" y2="390.6" stroke="#111" stroke-width="1.2"/>
<line x1="327.9" y1="401" x2="334.3" y2="401" stroke="#111" stroke-width="1.2"/>
<line x1="348.62" y1="393.2" x2="348.62" y2="401.2" stroke="#111" stroke-width="1.2"/>
<line x1="345.42" y1="393.2" x2="351.82" y2="393.2" stroke="#111" stroke-width="1.2"/>
<line x1="345.42" y1="401.2" x2="351.82" y2="401.2" stroke="#111" stroke-width="1.2"/>
<line x1="366.14" y1="375.6" x2="366.14" y2="385.1" stroke="#111" stroke-width="1.2"/>
<line x1="362.94" y1="375.6" x2="369.34" y2="375.6" stroke="#111" stroke-width="1.2"/>
<line x1="362.94" y1="385.1" x2="369.34" y2="385.1" stroke="#111" stroke-width="1.2"/>
<line x1="383.66" y1="389.8" x2="383.66" y2="393.2" stroke="#111" stroke-width="1.2"/>
<line x1="380.46" y1="389.8" x2="386.86" y2="389.8" stroke="#111" stroke-width="1.2"/>
<line x1="380.46" y1="393.2" x2="386.86" y2="393.2" stroke="#111" stroke-width="1.2"/>
<line x1="401.18" y1="387.7" x2="401.18" y2="397.2" stroke="#111" stroke-width="1.2"/>
<line x1="397.98" y1="387.7" x2="404.38" y2="387.7" stroke="#111" stroke-width="1.2"/>
<line x1="397.98" y1="397.2" x2="404.38" y2="397.2" stroke="#111" stroke-width="1.2"/>
<line x1="418.7" y1="381.6" x2="418.7" y2="392.5" stroke="#111" stroke-width="1.2"/>
<line x1="415.5" y1="381.6" x2="421.9" y2="381.6" stroke="#111" stroke-width="1.2"/>
<line x1="415.5" y1="392.5" x2="421.9" y2="392.5" stroke="#111" stroke-width="1.2"/>
<line x1="436.22" y1="393.3" x2="436.22" y2="409.2" stroke="#111" stroke-width="1.2"/>
<line x1="433.02" y1="393.3" x2="439.42" y2="393.3" stroke="#111" stroke-width="1.2"/>
<line x1="433.02" y1="409.2" x2="439.42" y2="409.2" stroke="#111" stroke-width="1.2"/>
<line x1="453.74" y1="389.7" x2="453.74" y2="397.5" stroke="#111" stroke-width="1.2"/>
<line x1="450.54" y1="389.7" x2="456.94" y2="389.7" stroke="#111" stroke-width="1.2"/>
<line x1="450.54" y1="397.5" x2="456.94" y2="397.5" stroke="#111" stroke-width="1.2"/>
<line x1="471.26" y1="382.9" x2="471.26" y2="396.1" stroke="#111" stroke-width="1.2"/>
<line x1="468.06" y1="382.9" x2="474.46" y2="382.9" stroke="#111" stroke-width="1.2"/>
<line x1="468.06" y1="396.1" x2="474.46" y2="396.1" stroke="#111" stroke-width="1.2"/>
<line x1="488.78" y1="381.1" x2="488.78" y2="389.7" stroke="#111" stroke-width="1.2"/>
<line x1="485.58" y1="381.1" x2="491.98" y2="381.1" stroke="#111" stroke-width="1.2"/>
<line x1="485.58" y1="389.7" x2="491.98" y2="389.7" stroke="#111" stroke-width="1.2"/>
<line x1="59.5" y1="336.3" x2="59.5" y2="442.4" stroke="#000" stroke-width="2.1"/>
<text x="501.2" y="354.3" font-size="13.5" text-anchor="end" font-family="Liberation Sans, sans-serif" font-weight="bold" stroke="#111" stroke-width="0.35" fill="#111">Nedd4</text>
<line x1="55.5" y1="454.6" x2="516.6" y2="454.6" stroke="#777" stroke-width="1.6"/>
<line x1="55.5" y1="553.7" x2="516.6" y2="553.7" stroke="#777" stroke-width="1.6"/>
<line x1="516.6" y1="454" x2="516.6" y2="553.7" stroke="#222" stroke-width="1.5"/>
<line x1="55.5" y1="479.38" x2="59.5" y2="479.38" stroke="#111" stroke-width="1.1"/>
<line x1="55.5" y1="504.15" x2="59.5" y2="504.15" stroke="#111" stroke-width="1.1"/>
<line x1="55.5" y1="528.93" x2="59.5" y2="528.93" stroke="#111" stroke-width="1.1"/>
<text x="53.6" y="459.2" font-size="12.1" text-anchor="end" font-family="Liberation Sans, sans-serif" font-weight="bold" stroke="#111" stroke-width="0.35" fill="#111">4</text>
<text x="53.6" y="483.98" font-size="12.1" text-anchor="end" font-family="Liberation Sans, sans-serif" font-weight="bold" stroke="#111" stroke-width="0.35" fill="#111">2</text>
<text x="53.6" y="508.75" font-size="12.1" text-anchor="end" font-family="Liberation Sans, sans-serif" font-weight="bold" stroke="#111" stroke-width="0.35" fill="#111">0</text>
<text x="53.6" y="533.53" font-size="12.1" text-anchor="end" font-family="Liberation Sans, sans-serif" font-weight="bold" stroke="#111" stroke-width="0.35" fill="#111">-2</text>
<text x="53.6" y="558.3" font-size="12.1" text-anchor="end" font-family="Liberation Sans, sans-serif" font-weight="bold" stroke="#111" stroke-width="0.35" fill="#111">-4</text>
<rect x="63.7" y="503.8" width="9.2" height="49.9" fill="#000"/>
<rect x="81.88" y="494.8" width="8" height="58.9" fill="#a6a6a6" stroke="#111" stroke-width="1.35"/>
<rect x="82.58" y="495.5" width="6.6" height="3.3" fill="#e6e6e6"/>
<rect x="99.46" y="492.4" width="8" height="61.3" fill="#fff" stroke="#111" stroke-width="1.35"/>
<rect x="117.04" y="486.6" width="8" height="67.1" fill="#fff" stroke="#111" stroke-width="1.35"/>
<rect x="134.62" y="477.7" width="8" height="76" fill="#fff" stroke="#111" stroke-width="1.35"/>
<rect x="152.2" y="495.3" width="8" height="58.4" fill="#fff" stroke="#111" stroke-width="1.35"/>
<rect x="169.78" y="499.6" width="8" height="54.1" fill="#fff" stroke="#111" stroke-width="1.35"/>
<rect x="187.36" y="514.1" width="8" height="39.6" fill="#fff" stroke="#111" stroke-width="1.35"/>
<rect x="204.94" y="513.8" width="8" height="39.9" fill="#fff" stroke="#111" stroke-width="1.35"/>
<rect x="222.52" y="508.5" width="8" height="45.2" fill="#fff" stroke="#111" stroke-width="1.35"/>
<rect x="240.1" y="520.6" width="8" height="33.1" fill="#fff" stroke="#111" stroke-width="1.35"/>
<rect x="257.68" y="512.4" width="8" height="41.3" fill="#fff" stroke="#111" stroke-width="1.35"/>
<rect x="275.26" y="511.4" width="8" height="42.3" fill="#fff" stroke="#111" stroke-width="1.35"/>
<rect x="292.84" y="515.7" width="8" height="38" fill="#fff" stroke="#111" stroke-width="1.35"/>
<rect x="310.42" y="508" width="8" height="45.7" fill="#fff" stroke="#111" stroke-width="1.35"/>
<rect x="328" y="509" width="8" height="44.7" fill="#fff" stroke="#111" stroke-width="1.35"/>
<rect x="345.58" y="513.7" width="8" height="40" fill="#fff" stroke="#111" stroke-width="1.35"/>
<rect x="363.16" y="537.1" width="8" height="16.6" fill="#fff" stroke="#111" stroke-width="1.35"/>
<rect x="380.74" y="509.8" width="8" height="43.9" fill="#fff" stroke="#111" stroke-width="1.35"/>
<rect x="398.32" y="510.3" width="8" height="43.4" fill="#fff" stroke="#111" stroke-width="1.35"/>
<rect x="415.9" y="495.2" width="8" height="58.5" fill="#fff" stroke="#111" stroke-width="1.35"/>
<rect x="433.48" y="509.3" width="8" height="44.4" fill="#fff" stroke="#111" stroke-width="1.35"/>
<rect x="451.06" y="519.7" width="8" height="34" fill="#fff" stroke="#111" stroke-width="1.35"/>
<rect x="468.64" y="520.3" width="8" height="33.4" fill="#fff" stroke="#111" stroke-width="1.35"/>
<rect x="486.22" y="502.9" width="8" height="50.8" fill="#fff" stroke="#111" stroke-width="1.35"/>
<rect x="503.8" y="498.3" width="8" height="55.4" fill="#fff" stroke="#111" stroke-width="1.35"/>
<line x1="59.5" y1="503.8" x2="516.6" y2="503.8" stroke="#000" stroke-width="1.5" stroke-dasharray="3.4,1.3,2.2,1.3"/>
<line x1="85.88" y1="491.4" x2="85.88" y2="498.1" stroke="#111" stroke-width="1.2"/>
<line x1="82.68" y1="491.4" x2="89.08" y2="491.4" stroke="#111" stroke-width="1.2"/>
<line x1="82.68" y1="498.1" x2="89.08" y2="498.1" stroke="#111" stroke-width="1.2"/>
<line x1="121.04" y1="481.5" x2="121.04" y2="490.2" stroke="#111" stroke-width="1.2"/>
<line x1="117.84" y1="481.5" x2="124.24" y2="481.5" stroke="#111" stroke-width="1.2"/>
<line x1="117.84" y1="490.2" x2="124.24" y2="490.2" stroke="#111" stroke-width="1.2"/>
<line x1="156.2" y1="488.1" x2="156.2" y2="501.1" stroke="#111" stroke-width="1.2"/>
<line x1="153" y1="488.1" x2="159.4" y2="488.1" stroke="#111" stroke-width="1.2"/>
<line x1="153" y1="501.1" x2="159.4" y2="501.1" stroke="#111" stroke-width="1.2"/>
<line x1="173.78" y1="498.5" x2="173.78" y2="500.8" stroke="#111" stroke-width="1.2"/>
<line x1="170.58" y1="498.5" x2="176.98" y2="498.5" stroke="#111" stroke-width="1.2"/>
<line x1="170.58" y1="500.8" x2="176.98" y2="500.8" stroke="#111" stroke-width="1.2"/>
<line x1="191.36" y1="508" x2="191.36" y2="519.1" stroke="#111" stroke-width="1.2"/>
<line x1="188.16" y1="508" x2="194.56" y2="508" stroke="#111" stroke-width="1.2"/>
<line x1="188.16" y1="519.1" x2="194.56" y2="519.1" stroke="#111" stroke-width="1.2"/>
<line x1="208.94" y1="509.9" x2="208.94" y2="516.7" stroke="#111" stroke-width="1.2"/>
<line x1="205.74" y1="509.9" x2="212.14" y2="509.9" stroke="#111" stroke-width="1.2"/>
<line x1="205.74" y1="516.7" x2="212.14" y2="516.7" stroke="#111" stroke-width="1.2"/>
<line x1="226.52" y1="505.6" x2="226.52" y2="510.2" stroke="#111" stroke-width="1.2"/>
<line x1="223.32" y1="505.6" x2="229.72" y2="505.6" stroke="#111" stroke-width="1.2"/>
<line x1="223.32" y1="510.2" x2="229.72" y2="510.2" stroke="#111" stroke-width="1.2"/>
<line x1="261.68" y1="508" x2="261.68" y2="516" stroke="#111" stroke-width="1.2"/>
<line x1="258.48" y1="508" x2="264.88" y2="508" stroke="#111" stroke-width="1.2"/>
<line x1="258.48" y1="516" x2="264.88" y2="516" stroke="#111" stroke-width="1.2"/>
<line x1="279.26" y1="510.6" x2="279.26" y2="512.1" stroke="#111" stroke-width="1.2"/>
<line x1="276.06" y1="510.6" x2="282.46" y2="510.6" stroke="#111" stroke-width="1.2"/>
<line x1="276.06" y1="512.1" x2="282.46" y2="512.1" stroke="#111" stroke-width="1.2"/>
<line x1="296.84" y1="511.9" x2="296.84" y2="518.6" stroke="#111" stroke-width="1.2"/>
<line x1="293.64" y1="511.9" x2="300.04" y2="511.9" stroke="#111" stroke-width="1.2"/>
<line x1="293.64" y1="518.6" x2="300.04" y2="518.6" stroke="#111" stroke-width="1.2"/>
<line x1="314.42" y1="504.1" x2="314.42" y2="511.4" stroke="#111" stroke-width="1.2"/>
<line x1="311.22" y1="504.1" x2="317.62" y2="504.1" stroke="#111" stroke-width="1.2"/>
<line x1="311.22" y1="511.4" x2="317.62" y2="511.4" stroke="#111" stroke-width="1.2"/>
<line x1="332" y1="506.2" x2="332" y2="511.6" stroke="#111" stroke-width="1.2"/>
<line x1="328.8" y1="506.2" x2="335.2" y2="506.2" stroke="#111" stroke-width="1.2"/>
<line x1="328.8" y1="511.6" x2="335.2" y2="511.6" stroke="#111" stroke-width="1.2"/>
<line x1="349.58" y1="510.3" x2="349.58" y2="517.2" stroke="#111" stroke-width="1.2"/>
<line x1="346.38" y1="510.3" x2="352.78" y2="510.3" stroke="#111" stroke-width="1.2"/>
<line x1="346.38" y1="517.2" x2="352.78" y2="517.2" stroke="#111" stroke-width="1.2"/>
<line x1="367.16" y1="534.5" x2="367.16" y2="539.2" stroke="#111" stroke-width="1.2"/>
<line x1="363.96" y1="534.5" x2="370.36" y2="534.5" stroke="#111" stroke-width="1.2"/>
<line x1="363.96" y1="539.2" x2="370.36" y2="539.2" stroke="#111" stroke-width="1.2"/>
<line x1="384.74" y1="505.1" x2="384.74" y2="513.7" stroke="#111" stroke-width="1.2"/>
<line x1="381.54" y1="505.1" x2="387.94" y2="505.1" stroke="#111" stroke-width="1.2"/>
<line x1="381.54" y1="513.7" x2="387.94" y2="513.7" stroke="#111" stroke-width="1.2"/>
<line x1="402.32" y1="505.6" x2="402.32" y2="514.3" stroke="#111" stroke-width="1.2"/>
<line x1="399.12" y1="505.6" x2="405.52" y2="505.6" stroke="#111" stroke-width="1.2"/>
<line x1="399.12" y1="514.3" x2="405.52" y2="514.3" stroke="#111" stroke-width="1.2"/>
<line x1="437.48" y1="504.4" x2="437.48" y2="513.9" stroke="#111" stroke-width="1.2"/>
<line x1="434.28" y1="504.4" x2="440.68" y2="504.4" stroke="#111" stroke-width="1.2"/>
<line x1="434.28" y1="513.9" x2="440.68" y2="513.9" stroke="#111" stroke-width="1.2"/>
<line x1="455.06" y1="516.6" x2="455.06" y2="523.4" stroke="#111" stroke-width="1.2"/>
<line x1="451.86" y1="516.6" x2="458.26" y2="516.6" stroke="#111" stroke-width="1.2"/>
<line x1="451.86" y1="523.4" x2="458.26" y2="523.4" stroke="#111" stroke-width="1.2"/>
<line x1="472.64" y1="514.8" x2="472.64" y2="525.8" stroke="#111" stroke-width="1.2"/>
<line x1="469.44" y1="514.8" x2="475.84" y2="514.8" stroke="#111" stroke-width="1.2"/>
<line x1="469.44" y1="525.8" x2="475.84" y2="525.8" stroke="#111" stroke-width="1.2"/>
<line x1="490.22" y1="502.2" x2="490.22" y2="503.7" stroke="#111" stroke-width="1.2"/>
<line x1="487.02" y1="502.2" x2="493.42" y2="502.2" stroke="#111" stroke-width="1.2"/>
<line x1="487.02" y1="503.7" x2="493.42" y2="503.7" stroke="#111" stroke-width="1.2"/>
<line x1="507.8" y1="489.2" x2="507.8" y2="504.4" stroke="#111" stroke-width="1.2"/>
<line x1="504.6" y1="489.2" x2="511" y2="489.2" stroke="#111" stroke-width="1.2"/>
<line x1="504.6" y1="504.4" x2="511" y2="504.4" stroke="#111" stroke-width="1.2"/>
<line x1="59.5" y1="453.9" x2="59.5" y2="553.7" stroke="#000" stroke-width="2.1"/>
<text x="500.4" y="471.8" font-size="13.5" text-anchor="end" font-family="Liberation Sans, sans-serif" font-weight="bold" stroke="#111" stroke-width="0.35" fill="#111">Angpt2</text>
<line x1="55.5" y1="562.3" x2="517.5" y2="562.3" stroke="#777" stroke-width="1.6"/>
<line x1="55.5" y1="660.4" x2="517.5" y2="660.4" stroke="#777" stroke-width="1.6"/>
<line x1="517.5" y1="561.7" x2="517.5" y2="739" stroke="#222" stroke-width="1.5"/>
<line x1="55.5" y1="586.82" x2="59.5" y2="586.82" stroke="#111" stroke-width="1.1"/>
<line x1="55.5" y1="611.35" x2="59.5" y2="611.35" stroke="#111" stroke-width="1.1"/>
<line x1="55.5" y1="635.88" x2="59.5" y2="635.88" stroke="#111" stroke-width="1.1"/>
<text x="53.6" y="566.9" font-size="12.1" text-anchor="end" font-family="Liberation Sans, sans-serif" font-weight="bold" stroke="#111" stroke-width="0.35" fill="#111">4</text>
<text x="53.6" y="591.42" font-size="12.1" text-anchor="end" font-family="Liberation Sans, sans-serif" font-weight="bold" stroke="#111" stroke-width="0.35" fill="#111">2</text>
<text x="53.6" y="615.95" font-size="12.1" text-anchor="end" font-family="Liberation Sans, sans-serif" font-weight="bold" stroke="#111" stroke-width="0.35" fill="#111">0</text>
<text x="53.6" y="640.48" font-size="12.1" text-anchor="end" font-family="Liberation Sans, sans-serif" font-weight="bold" stroke="#111" stroke-width="0.35" fill="#111">-2</text>
<text x="53.6" y="665" font-size="12.1" text-anchor="end" font-family="Liberation Sans, sans-serif" font-weight="bold" stroke="#111" stroke-width="0.35" fill="#111">-4</text>
<rect x="63.7" y="611.6" width="9.2" height="48.8" fill="#000"/>
<rect x="81.92" y="598.8" width="8" height="61.6" fill="#a6a6a6" stroke="#111" stroke-width="1.35"/>
<rect x="82.62" y="599.5" width="6.6" height="4.3" fill="#e6e6e6"/>
<rect x="99.54" y="601.6" width="8" height="58.8" fill="#fff" stroke="#111" stroke-width="1.35"/>
<rect x="117.16" y="595.2" width="8" height="65.2" fill="#fff" stroke="#111" stroke-width="1.35"/>
<rect x="134.78" y="588.3" width="8" height="72.1" fill="#fff" stroke="#111" stroke-width="1.35"/>
<rect x="152.4" y="592.6" width="8" height="67.8" fill="#fff" stroke="#111" stroke-width="1.35"/>
<rect x="170.02" y="592.3" width="8" height="68.1" fill="#fff" stroke="#111" stroke-width="1.35"/>
<rect x="187.64" y="589.1" width="8" height="71.3" fill="#fff" stroke="#111" stroke-width="1.35"/>
<rect x="205.26" y="620.2" width="8" height="40.2" fill="#fff" stroke="#111" stroke-width="1.35"/>
<rect x="222.88" y="642.6" width="8" height="17.8" fill="#fff" stroke="#111" stroke-width="1.35"/>
<rect x="240.5" y="648.8" width="8" height="11.6" fill="#fff" stroke="#111" stroke-width="1.35"/>
<rect x="258.12" y="632.5" width="8" height="27.9" fill="#fff" stroke="#111" stroke-width="1.35"/>
<rect x="275.74" y="636.8" width="8" height="23.6" fill="#fff" stroke="#111" stroke-width="1.35"/>
<rect x="293.36" y="636.8" width="8" height="23.6" fill="#fff" stroke="#111" stroke-width="1.35"/>
<rect x="310.98" y="628.1" width="8" height="32.3" fill="#fff" stroke="#111" stroke-width="1.35"/>
<rect x="328.6" y="626.7" width="8" height="33.7" fill="#fff" stroke="#111" stroke-width="1.35"/>
<rect x="346.22" y="619.6" width="8" height="40.8" fill="#fff" stroke="#111" stroke-width="1.35"/>
<rect x="363.84" y="612.7" width="8" height="47.7" fill="#fff" stroke="#111" stroke-width="1.35"/>
<rect x="381.46" y="629.6" width="8" height="30.8" fill="#fff" stroke="#111" stroke-width="1.35"/>
<rect x="399.08" y="605.4" width="8" height="55" fill="#fff" stroke="#111" stroke-width="1.35"/>
<rect x="416.7" y="602.3" width="8" height="58.1" fill="#fff" stroke="#111" stroke-width="1.35"/>
<rect x="434.32" y="612.5" width="8" height="47.9" fill="#fff" stroke="#111" stroke-width="1.35"/>
<rect x="451.94" y="612.5" width="8" height="47.9" fill="#fff" stroke="#111" stroke-width="1.35"/>
<rect x="469.56" y="646.3" width="8" height="14.1" fill="#fff" stroke="#111" stroke-width="1.35"/>
<rect x="487.18" y="618.9" width="8" height="41.5" fill="#fff" stroke="#111" stroke-width="1.35"/>
<rect x="504.8" y="593.6" width="8" height="66.8" fill="#fff" stroke="#111" stroke-width="1.35"/>
<line x1="59.5" y1="611.6" x2="517.5" y2="611.6" stroke="#000" stroke-width="1.5" stroke-dasharray="3.4,1.3,2.2,1.3"/>
<line x1="85.92" y1="594.1" x2="85.92" y2="603.1" stroke="#111" stroke-width="1.2"/>
<line x1="82.72" y1="594.1" x2="89.12" y2="594.1" stroke="#111" stroke-width="1.2"/>
<line x1="82.72" y1="603.1" x2="89.12" y2="603.1" stroke="#111" stroke-width="1.2"/>
<line x1="103.54" y1="596.2" x2="103.54" y2="606" stroke="#111" stroke-width="1.2"/>
<line x1="100.34" y1="596.2" x2="106.74" y2="596.2" stroke="#111" stroke-width="1.2"/>
<line x1="100.34" y1="606" x2="106.74" y2="606" stroke="#111" stroke-width="1.2"/>
<line x1="121.16" y1="592.7" x2="121.16" y2="597.3" stroke="#111" stroke-width="1.2"/>
<line x1="117.96" y1="592.7" x2="124.36" y2="592.7" stroke="#111" stroke-width="1.2"/>
<line x1="117.96" y1="597.3" x2="124.36" y2="597.3" stroke="#111" stroke-width="1.2"/>
<line x1="138.78" y1="587.5" x2="138.78" y2="589.5" stroke="#111" stroke-width="1.2"/>
<line x1="135.58" y1="587.5" x2="141.98" y2="587.5" stroke="#111" stroke-width="1.2"/>
<line x1="135.58" y1="589.5" x2="141.98" y2="589.5" stroke="#111" stroke-width="1.2"/>
<line x1="156.4" y1="583.9" x2="156.4" y2="601" stroke="#111" stroke-width="1.2"/>
<line x1="153.2" y1="583.9" x2="159.6" y2="583.9" stroke="#111" stroke-width="1.2"/>
<line x1="153.2" y1="601" x2="159.6" y2="601" stroke="#111" stroke-width="1.2"/>
<line x1="174.02" y1="586.5" x2="174.02" y2="597.4" stroke="#111" stroke-width="1.2"/>
<line x1="170.82" y1="586.5" x2="177.22" y2="586.5" stroke="#111" stroke-width="1.2"/>
<line x1="170.82" y1="597.4" x2="177.22" y2="597.4" stroke="#111" stroke-width="1.2"/>
<line x1="191.64" y1="588.3" x2="191.64" y2="590" stroke="#111" stroke-width="1.2"/>
<line x1="188.44" y1="588.3" x2="194.84" y2="588.3" stroke="#111" stroke-width="1.2"/>
<line x1="188.44" y1="590" x2="194.84" y2="590" stroke="#111" stroke-width="1.2"/>
<line x1="209.26" y1="614.7" x2="209.26" y2="625.3" stroke="#111" stroke-width="1.2"/>
<line x1="206.06" y1="614.7" x2="212.46" y2="614.7" stroke="#111" stroke-width="1.2"/>
<line x1="206.06" y1="625.3" x2="212.46" y2="625.3" stroke="#111" stroke-width="1.2"/>
<line x1="226.88" y1="637.8" x2="226.88" y2="646.5" stroke="#111" stroke-width="1.2"/>
<line x1="223.68" y1="637.8" x2="230.08" y2="637.8" stroke="#111" stroke-width="1.2"/>
<line x1="223.68" y1="646.5" x2="230.08" y2="646.5" stroke="#111" stroke-width="1.2"/>
<line x1="244.5" y1="644.7" x2="244.5" y2="652.2" stroke="#111" stroke-width="1.2"/>
<line x1="241.3" y1="644.7" x2="247.7" y2="644.7" stroke="#111" stroke-width="1.2"/>
<line x1="241.3" y1="652.2" x2="247.7" y2="652.2" stroke="#111" stroke-width="1.2"/>
<line x1="262.12" y1="628.9" x2="262.12" y2="636.1" stroke="#111" stroke-width="1.2"/>
<line x1="258.92" y1="628.9" x2="265.32" y2="628.9" stroke="#111" stroke-width="1.2"/>
<line x1="258.92" y1="636.1" x2="265.32" y2="636.1" stroke="#111" stroke-width="1.2"/>
<line x1="279.74" y1="636" x2="279.74" y2="637.8" stroke="#111" stroke-width="1.2"/>
<line x1="276.54" y1="636" x2="282.94" y2="636" stroke="#111" stroke-width="1.2"/>
<line x1="276.54" y1="637.8" x2="282.94" y2="637.8" stroke="#111" stroke-width="1.2"/>
<line x1="297.36" y1="631.7" x2="297.36" y2="641.1" stroke="#111" stroke-width="1.2"/>
<line x1="294.16" y1="631.7" x2="300.56" y2="631.7" stroke="#111" stroke-width="1.2"/>
<line x1="294.16" y1="641.1" x2="300.56" y2="641.1" stroke="#111" stroke-width="1.2"/>
<line x1="314.98" y1="620.9" x2="314.98" y2="634.9" stroke="#111" stroke-width="1.2"/>
<line x1="311.78" y1="620.9" x2="318.18" y2="620.9" stroke="#111" stroke-width="1.2"/>
<line x1="311.78" y1="634.9" x2="318.18" y2="634.9" stroke="#111" stroke-width="1.2"/>
<line x1="332.6" y1="620.9" x2="332.6" y2="632.5" stroke="#111" stroke-width="1.2"/>
<line x1="329.4" y1="620.9" x2="335.8" y2="620.9" stroke="#111" stroke-width="1.2"/>
<line x1="329.4" y1="632.5" x2="335.8" y2="632.5" stroke="#111" stroke-width="1.2"/>
<line x1="350.22" y1="614.8" x2="350.22" y2="625.1" stroke="#111" stroke-width="1.2"/>
<line x1="347.02" y1="614.8" x2="353.42" y2="614.8" stroke="#111" stroke-width="1.2"/>
<line x1="347.02" y1="625.1" x2="353.42" y2="625.1" stroke="#111" stroke-width="1.2"/>
<line x1="367.84" y1="606.6" x2="367.84" y2="619.6" stroke="#111" stroke-width="1.2"/>
<line x1="364.64" y1="606.6" x2="371.04" y2="606.6" stroke="#111" stroke-width="1.2"/>
<line x1="364.64" y1="619.6" x2="371.04" y2="619.6" stroke="#111" stroke-width="1.2"/>
<line x1="385.46" y1="626.9" x2="385.46" y2="632.6" stroke="#111" stroke-width="1.2"/>
<line x1="382.26" y1="626.9" x2="388.66" y2="626.9" stroke="#111" stroke-width="1.2"/>
<line x1="382.26" y1="632.6" x2="388.66" y2="632.6" stroke="#111" stroke-width="1.2"/>
<line x1="403.08" y1="598.5" x2="403.08" y2="611.8" stroke="#111" stroke-width="1.2"/>
<line x1="399.88" y1="598.5" x2="406.28" y2="598.5" stroke="#111" stroke-width="1.2"/>
<line x1="399.88" y1="611.8" x2="406.28" y2="611.8" stroke="#111" stroke-width="1.2"/>
<line x1="420.7" y1="593.3" x2="420.7" y2="610.6" stroke="#111" stroke-width="1.2"/>
<line x1="417.5" y1="593.3" x2="423.9" y2="593.3" stroke="#111" stroke-width="1.2"/>
<line x1="417.5" y1="610.6" x2="423.9" y2="610.6" stroke="#111" stroke-width="1.2"/>
<line x1="438.32" y1="599.7" x2="438.32" y2="624.4" stroke="#111" stroke-width="1.2"/>
<line x1="435.12" y1="599.7" x2="441.52" y2="599.7" stroke="#111" stroke-width="1.2"/>
<line x1="435.12" y1="624.4" x2="441.52" y2="624.4" stroke="#111" stroke-width="1.2"/>
<line x1="455.94" y1="603.9" x2="455.94" y2="621.1" stroke="#111" stroke-width="1.2"/>
<line x1="452.74" y1="603.9" x2="459.14" y2="603.9" stroke="#111" stroke-width="1.2"/>
<line x1="452.74" y1="621.1" x2="459.14" y2="621.1" stroke="#111" stroke-width="1.2"/>
<line x1="473.56" y1="643.6" x2="473.56" y2="648.5" stroke="#111" stroke-width="1.2"/>
<line x1="470.36" y1="643.6" x2="476.76" y2="643.6" stroke="#111" stroke-width="1.2"/>
<line x1="470.36" y1="648.5" x2="476.76" y2="648.5" stroke="#111" stroke-width="1.2"/>
<line x1="491.18" y1="612.5" x2="491.18" y2="624.7" stroke="#111" stroke-width="1.2"/>
<line x1="487.98" y1="612.5" x2="494.38" y2="612.5" stroke="#111" stroke-width="1.2"/>
<line x1="487.98" y1="624.7" x2="494.38" y2="624.7" stroke="#111" stroke-width="1.2"/>
<line x1="508.8" y1="587.8" x2="508.8" y2="598.8" stroke="#111" stroke-width="1.2"/>
<line x1="505.6" y1="587.8" x2="512" y2="587.8" stroke="#111" stroke-width="1.2"/>
<line x1="505.6" y1="598.8" x2="512" y2="598.8" stroke="#111" stroke-width="1.2"/>
<line x1="59.5" y1="561.6" x2="59.5" y2="735.4" stroke="#000" stroke-width="2.1"/>
<text x="502.5" y="581.2" font-size="13.5" text-anchor="end" font-family="Liberation Sans, sans-serif" font-weight="bold" stroke="#111" stroke-width="0.35" fill="#111">Spink8</text>
<text transform="translate(72.13,663.6) rotate(-90) scale(1,0.95)" font-size="13.5" text-anchor="end" font-family="Liberation Sans, sans-serif" font-weight="bold" stroke="#111" stroke-width="0.35" fill="#111">2PA</text>
<text transform="translate(90.43,663.6) rotate(-90) scale(1,0.95)" font-size="13.5" text-anchor="end" font-family="Liberation Sans, sans-serif" font-weight="bold" stroke="#111" stroke-width="0.35" fill="#111">3PP</text>
<text transform="translate(105.93,663.6) rotate(-90) scale(1,0.95)" font-size="13.5" text-anchor="end" font-family="Liberation Sans, sans-serif" font-weight="bold" stroke="#111" stroke-width="0.35" fill="#111">Heart</text>
<text transform="translate(123.63,663.6) rotate(-90) scale(1,0.95)" font-size="13.5" text-anchor="end" font-family="Liberation Sans, sans-serif" font-weight="bold" stroke="#111" stroke-width="0.35" fill="#111">Brain</text>
<text transform="translate(140.93,663.6) rotate(-90) scale(1,0.95)" font-size="13.5" text-anchor="end" font-family="Liberation Sans, sans-serif" font-weight="bold" stroke="#111" stroke-width="0.35" fill="#111">Lung</text>
<text transform="translate(159.43,663.6) rotate(-90) scale(1,0.95)" font-size="13.5" text-anchor="end" font-family="Liberation Sans, sans-serif" font-weight="bold" stroke="#111" stroke-width="0.35" fill="#111">Liver</text>
<text transform="translate(178.23,663.6) rotate(-90) scale(1,0.95)" font-size="13.5" text-anchor="end" font-family="Liberation Sans, sans-serif" font-weight="bold" stroke="#111" stroke-width="0.35" fill="#111">Gut</text>
<text transform="translate(193.73,663.6) rotate(-90) scale(1,0.95)" font-size="13.5" text-anchor="end" font-family="Liberation Sans, sans-serif" font-weight="bold" stroke="#111" stroke-width="0.35" fill="#111">Spine</text>
<text transform="translate(212.03,663.6) rotate(-90) scale(1,0.95)" font-size="13.5" text-anchor="end" font-family="Liberation Sans, sans-serif" font-weight="bold" stroke="#111" stroke-width="0.35" fill="#111">Thymus</text>
<text transform="translate(229.23,663.6) rotate(-90) scale(1,0.95)" font-size="13.5" text-anchor="end" font-family="Liberation Sans, sans-serif" font-weight="bold" stroke="#111" stroke-width="0.35" fill="#111">Salivary</text>
<text transform="translate(249.43,663.6) rotate(-90) scale(1,0.95)" font-size="13.5" text-anchor="end" font-family="Liberation Sans, sans-serif" font-weight="bold" stroke="#111" stroke-width="0.35" fill="#111">Heart</text>
<text transform="translate(265.53,663.6) rotate(-90) scale(1,0.95)" font-size="13.5" text-anchor="end" font-family="Liberation Sans, sans-serif" font-weight="bold" stroke="#111" stroke-width="0.35" fill="#111">Brain</text>
<text transform="translate(282.53,663.6) rotate(-90) scale(1,0.95)" font-size="13.5" text-anchor="end" font-family="Liberation Sans, sans-serif" font-weight="bold" stroke="#111" stroke-width="0.35" fill="#111">Lung</text>
<text transform="translate(302.73,663.6) rotate(-90) scale(1,0.95)" font-size="13.5" text-anchor="end" font-family="Liberation Sans, sans-serif" font-weight="bold" stroke="#111" stroke-width="0.35" fill="#111">Liver</text>
<text transform="translate(319.73,663.6) rotate(-90) scale(1,0.95)" font-size="13.5" text-anchor="end" font-family="Liberation Sans, sans-serif" font-weight="bold" stroke="#111" stroke-width="0.35" fill="#111">Gut</text>
<text transform="translate(336.93,663.6) rotate(-90) scale(1,0.95)" font-size="13.5" text-anchor="end" font-family="Liberation Sans, sans-serif" font-weight="bold" stroke="#111" stroke-width="0.35" fill="#111">Skin</text>
<text transform="translate(354.53,663.6) rotate(-90) scale(1,0.95)" font-size="13.5" text-anchor="end" font-family="Liberation Sans, sans-serif" font-weight="bold" stroke="#111" stroke-width="0.35" fill="#111">Thymus</text>
<text transform="translate(372.23,663.6) rotate(-90) scale(1,0.95)" font-size="13.5" text-anchor="end" font-family="Liberation Sans, sans-serif" font-weight="bold" stroke="#111" stroke-width="0.35" fill="#111">Salivary</text>
<text transform="translate(390.63,663.6) rotate(-90) scale(1,0.95)" font-size="13.5" text-anchor="end" font-family="Liberation Sans, sans-serif" font-weight="bold" stroke="#111" stroke-width="0.35" fill="#111">Heart</text>
<text transform="translate(407.23,663.6) rotate(-90) scale(1,0.95)" font-size="13.5" text-anchor="end" font-family="Liberation Sans, sans-serif" font-weight="bold" stroke="#111" stroke-width="0.35" fill="#111">Brain</text>
<text transform="translate(424.13,663.6) rotate(-90) scale(1,0.95)" font-size="13.5" text-anchor="end" font-family="Liberation Sans, sans-serif" font-weight="bold" stroke="#111" stroke-width="0.35" fill="#111">Lung</text>
<text transform="translate(443.33,663.6) rotate(-90) scale(1,0.95)" font-size="13.5" text-anchor="end" font-family="Liberation Sans, sans-serif" font-weight="bold" stroke="#111" stroke-width="0.35" fill="#111">Liver</text>
<text transform="translate(461.33,663.6) rotate(-90) scale(1,0.95)" font-size="13.5" text-anchor="end" font-family="Liberation Sans, sans-serif" font-weight="bold" stroke="#111" stroke-width="0.35" fill="#111">Gut</text>
<text transform="translate(478.73,663.6) rotate(-90) scale(1,0.95)" font-size="13.5" text-anchor="end" font-family="Liberation Sans, sans-serif" font-weight="bold" stroke="#111" stroke-width="0.35" fill="#111">Skin</text>
<text transform="translate(495.13,663.6) rotate(-90) scale(1,0.95)" font-size="13.5" text-anchor="end" font-family="Liberation Sans, sans-serif" font-weight="bold" stroke="#111" stroke-width="0.35" fill="#111">Spleen</text>
<text transform="translate(512.73,663.6) rotate(-90) scale(1,0.95)" font-size="13.5" text-anchor="end" font-family="Liberation Sans, sans-serif" font-weight="bold" stroke="#111" stroke-width="0.35" fill="#111">Kidney</text>
<text x="132.8" y="736.9" font-size="13.5" text-anchor="middle" font-family="Liberation Sans, sans-serif" font-weight="bold" stroke="#111" stroke-width="0.35" fill="#111">E11.5</text>
<text x="279" y="737.5" font-size="13.5" text-anchor="middle" font-family="Liberation Sans, sans-serif" font-weight="bold" stroke="#111" stroke-width="0.35" fill="#111">E14.5</text>
<text x="442" y="737.8" font-size="13.5" text-anchor="middle" font-family="Liberation Sans, sans-serif" font-weight="bold" stroke="#111" stroke-width="0.35" fill="#111">8W</text>
<text transform="translate(13.3,450) rotate(-90)" font-size="13.6" font-family="Liberation Sans, sans-serif" font-weight="bold" stroke="#111" stroke-width="0.35" fill="#111">Relative Expression / GAPDH (log<tspan font-size="13.3" dy="6.4">10</tspan><tspan dy="-6.3">)</tspan></text>
</svg>
</body></html>
